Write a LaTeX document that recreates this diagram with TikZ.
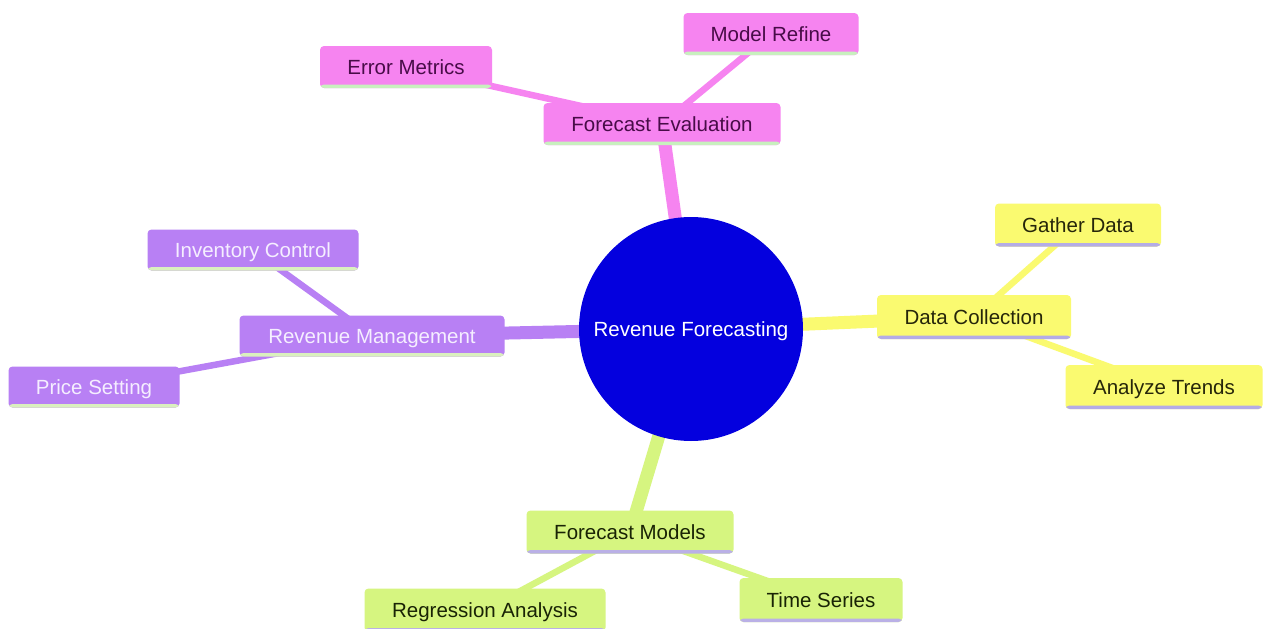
\documentclass[tikz,border=0pt]{standalone}
\usepackage{fontspec}
\setmainfont{Liberation Sans}
\usetikzlibrary{backgrounds}
\definecolor{rootblue}{RGB}{4,0,222}
\definecolor{pinkfill}{RGB}{246,132,240}
\definecolor{pinktext}{RGB}{72,12,72}
\definecolor{pinkline}{RGB}{200,240,190}
\definecolor{yellowfill}{RGB}{250,250,112}
\definecolor{yellowtext}{RGB}{38,38,10}
\definecolor{yellowline}{RGB}{180,172,230}
\definecolor{purplefill}{RGB}{184,128,244}
\definecolor{purpletext}{RGB}{245,238,255}
\definecolor{purpleline}{RGB}{218,240,190}
\definecolor{greenfill}{RGB}{214,245,128}
\definecolor{greentext}{RGB}{25,35,5}
\definecolor{greenline}{RGB}{186,176,230}
\tikzset{
  box/.style={rectangle, rounded corners=4pt, inner sep=0pt, text height=14.7pt, text depth=0pt,
    minimum height=42pt},
  uline/.style={path picture={\fill[#1] ([yshift=-0.5pt]path picture bounding box.south west) rectangle ([yshift=3.5pt]path picture bounding box.south east);}},
  pinkbox/.style={box, fill=pinkfill, text=pinktext, uline=pinkline},
  yellowbox/.style={box, fill=yellowfill, text=yellowtext, uline=yellowline},
  purplebox/.style={box, fill=purplefill, text=purpletext, uline=purpleline},
  greenbox/.style={box, fill=greenfill, text=greentext, uline=greenline},
  lone/.style={line width=13pt},
  ltwo/.style={line width=6.5pt},
}
\begin{document}
\begin{tikzpicture}[x=1pt,y=-1pt,font=\fontsize{20.5}{24}\selectfont]
\useasboundingbox (0,0) rectangle (1264,629);
% root
\node[circle, fill=rootblue, minimum size=224pt, inner sep=0pt, text=white, text height=14.7pt, text depth=0pt] (root) at (691,329) {Revenue Forecasting};
% pink
\node[pinkbox, minimum width=237pt] (fe) at (662,124) {Forecast Evaluation};
\node[pinkbox, minimum width=172pt] (em) at (406,67) {Error Metrics};
\node[pinkbox, minimum width=175pt] (mr) at (771,34) {Model Refine};
% yellow
\node[yellowbox, minimum width=194pt, minimum height=44pt] (dc) at (974,317) {Data Collection};
\node[yellowbox, minimum width=166pt, minimum height=43pt] (gd) at (1078,225) {Gather Data};
\node[yellowbox, minimum width=197pt, minimum height=44pt] (at) at (1164,387) {Analyze Trends};
% purple
\node[purplebox, minimum width=265pt, minimum height=41pt] (rm) at (372,336) {Revenue Management};
\node[purplebox, minimum width=211pt, minimum height=41pt] (ic) at (253,250) {Inventory Control};
\node[purplebox, minimum width=171pt, minimum height=41pt] (ps) at (94,387) {Price Setting};
% green
\node[greenbox, minimum width=207pt, minimum height=43pt] (fm) at (630,532) {Forecast Models};
\node[greenbox, minimum width=241pt, minimum height=43pt] (ra) at (485,610) {Regression Analysis};
\node[greenbox, minimum width=163pt, minimum height=44pt] (ts) at (821,600) {Time Series};
% connectors
\begin{scope}[on background layer]
\fill[white] (0,0) rectangle (1264,629);
\draw[lone, pinkfill] (root.center) -- (fe.center);
\draw[ltwo, pinkfill] (fe.center) -- (em.center);
\draw[ltwo, pinkfill] (fe.center) -- (mr.center);
\draw[lone, yellowfill] (root.center) -- (dc.center);
\draw[ltwo, yellowfill] (dc.center) -- (gd.center);
\draw[ltwo, yellowfill] (dc.center) -- (at.center);
\draw[lone, purplefill] (root.center) -- (rm.center);
\draw[ltwo, purplefill] (rm.center) -- (ic.center);
\draw[ltwo, purplefill] (rm.center) -- (ps.center);
\draw[lone, greenfill] (root.center) -- (fm.center);
\draw[ltwo, greenfill] (fm.center) -- (ra.center);
\draw[ltwo, greenfill] (fm.center) -- (ts.center);
\end{scope}
\end{tikzpicture}
\end{document}
